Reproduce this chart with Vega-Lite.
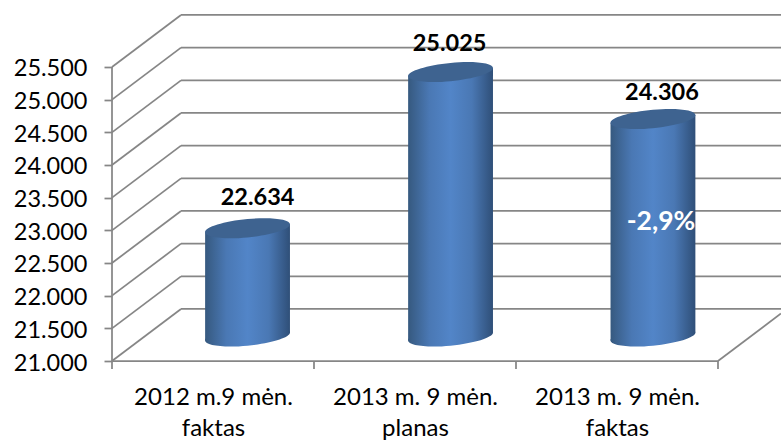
{"$schema":"https://vega.github.io/schema/vega-lite/v6.json","width":669,"height":361,"autosize":{"type":"none"},"padding":{"left":112,"top":0,"right":0,"bottom":79},"background":"white","config":{"view":{"stroke":null},"axis":{"labelFont":"Lato","labelColor":"#000000"}},
"datasets":{
"frame":[
{"x":0,"y":21000,"x2":0.3416,"y2":21796},{"x":0,"y":21500,"x2":0.3416,"y2":22296},{"x":0,"y":22000,"x2":0.3416,"y2":22796},{"x":0,"y":22500,"x2":0.3416,"y2":23296},{"x":0,"y":23000,"x2":0.3416,"y2":23796},{"x":0,"y":23500,"x2":0.3416,"y2":24296},{"x":0,"y":24000,"x2":0.3416,"y2":24796},{"x":0,"y":24500,"x2":0.3416,"y2":25296},{"x":0,"y":25000,"x2":0.3416,"y2":25796},{"x":0,"y":25500,"x2":0.3416,"y2":26296},
{"x":0.3416,"y":21796,"x2":3.3119,"y2":21796},{"x":0.3416,"y":22296,"x2":3.3119,"y2":22296},{"x":0.3416,"y":22796,"x2":3.3119,"y2":22796},{"x":0.3416,"y":23296,"x2":3.3119,"y2":23296},{"x":0.3416,"y":23796,"x2":3.3119,"y2":23796},{"x":0.3416,"y":24296,"x2":3.3119,"y2":24296},{"x":0.3416,"y":24796,"x2":3.3119,"y2":24796},{"x":0.3416,"y":25296,"x2":3.3119,"y2":25296},{"x":0.3416,"y":25796,"x2":3.3119,"y2":25796},{"x":0.3416,"y":26296,"x2":3.3119,"y2":26296},
{"x":0,"y":21000,"x2":3,"y2":21000},{"x":3,"y":21000,"x2":3.3119,"y2":21727},{"x":0,"y":21000,"x2":0,"y2":25500},
{"x":0,"y":21000,"x2":0,"y2":20878},{"x":1,"y":21000,"x2":1,"y2":20878},{"x":2,"y":21000,"x2":2,"y2":20878},{"x":3,"y":21000,"x2":3,"y2":20878}],
"bases":[{"x":0.671,"y":21375},{"x":1.676,"y":21375},{"x":2.678,"y":21375}],
"tops":[{"x":0.671,"y":23032},{"x":1.676,"y":25423},{"x":2.678,"y":24704}],
"bodies":[
{"bar":"a","x":0.461,"y":22971,"y2":21314},{"bar":"a","x":0.881,"y":23093,"y2":21436},
{"bar":"b","x":1.466,"y":25362,"y2":21314},{"bar":"b","x":1.886,"y":25484,"y2":21436},
{"bar":"c","x":2.468,"y":24643,"y2":21314},{"bar":"c","x":2.888,"y":24765,"y2":21436}],
"labels":[{"x":0.671,"y":23032,"value":"22.634","category":"2012 m.9 mėn. faktas"},{"x":1.676,"y":25423,"value":"25.025","category":"2013 m. 9 mėn. planas"},{"x":2.678,"y":24704,"value":"24.306","category":"2013 m. 9 mėn. faktas"}],
"note":[{"x":2.678,"y":23143,"text":"-2,9%"}]
},
"encoding":{
"x":{"field":"x","type":"quantitative","scale":{"domain":[0,3.3119],"nice":false,"zero":false},"axis":{"title":null,"grid":false,"domain":false,"ticks":false,"values":[0.5,1.5,2.5],"labelFontSize":24,"labelLineHeight":31,"labelPadding":36,"labelBaseline":"middle","labelOverlap":false,"labelExpr":"datum.value==0.5?['2012 m.9 mėn.','faktas']:datum.value==1.5?['2013 m. 9 mėn.','planas']:['2013 m. 9 mėn.','faktas']"}},
"y":{"field":"y","type":"quantitative","scale":{"domain":[21000,26525.5],"nice":false,"zero":false},"axis":{"title":null,"grid":false,"domain":false,"ticks":true,"tickColor":"#868686","tickWidth":1.75,"tickSize":8,"labelFontSize":23.5,"labelPadding":17,"labelOffset":2,"labelOverlap":false,"values":[21000,21500,22000,22500,23000,23500,24000,24500,25000,25500],"labelExpr":"replace(format(datum.value,','),',','.')"}}
},
"layer":[
{"data":{"name":"frame"},"mark":{"type":"rule","stroke":"#868686","strokeWidth":1.75},"encoding":{"x2":{"field":"x2"},"y2":{"field":"y2"}}},
{"data":{"name":"bases"},"mark":{"type":"point","filled":true,"opacity":1,"size":7225,"shape":"M1,-0.094 C1,0.0247 0.5523,0.1631 0,0.215 C-0.5523,0.2669 -1,0.2127 -1,0.094 C-1,-0.0247 -0.5523,-0.1631 0,-0.215 C0.5523,-0.2669 1,-0.2127 1,-0.094Z","fill":{"gradient":"linear","x1":0,"x2":1,"y1":0,"y2":0,"stops":[{"offset":0,"color":"#36597f"},{"offset":0.25,"color":"#4a78b4"},{"offset":0.5,"color":"#5285c8"},{"offset":0.75,"color":"#4a78b4"},{"offset":1,"color":"#2f4f78"}]}}},
{"data":{"name":"bodies"},"mark":{"type":"area","fill":{"gradient":"linear","x1":0,"x2":1,"y1":0,"y2":0,"stops":[{"offset":0,"color":"#36597f"},{"offset":0.25,"color":"#4a78b4"},{"offset":0.5,"color":"#5285c8"},{"offset":0.75,"color":"#4a78b4"},{"offset":1,"color":"#2f4f78"}]}},"encoding":{"y2":{"field":"y2"},"detail":{"field":"bar"}}},
{"data":{"name":"tops"},"mark":{"type":"point","filled":true,"opacity":1,"size":7225,"color":"#3e6390","shape":"M1,-0.094 C1,0.0247 0.5523,0.1631 0,0.215 C-0.5523,0.2669 -1,0.2127 -1,0.094 C-1,-0.0247 -0.5523,-0.1631 0,-0.215 C0.5523,-0.2669 1,-0.2127 1,-0.094Z"}},
{"data":{"name":"labels"},"transform":[{"filter":"datum.value=='22.634'"}],"mark":{"type":"text","font":"Lato","fontWeight":"bold","fontSize":23.5,"color":"#000000","dx":10,"dy":-30},"encoding":{"text":{"field":"value","type":"nominal"}}},
{"data":{"name":"labels"},"transform":[{"filter":"datum.value=='25.025'"}],"mark":{"type":"text","font":"Lato","fontWeight":"bold","fontSize":23.5,"color":"#000000","dx":-1,"dy":-28},"encoding":{"text":{"field":"value","type":"nominal"}}},
{"data":{"name":"labels"},"transform":[{"filter":"datum.value=='24.306'"}],"mark":{"type":"text","font":"Lato","fontWeight":"bold","fontSize":23.5,"color":"#000000","dx":9,"dy":-26},"encoding":{"text":{"field":"value","type":"nominal"}}},
{"data":{"name":"note"},"mark":{"type":"text","font":"Lato","fontWeight":"bold","fontSize":26.5,"color":"#ffffff","dx":8,"dy":1},"encoding":{"text":{"field":"text"}}}
]}
